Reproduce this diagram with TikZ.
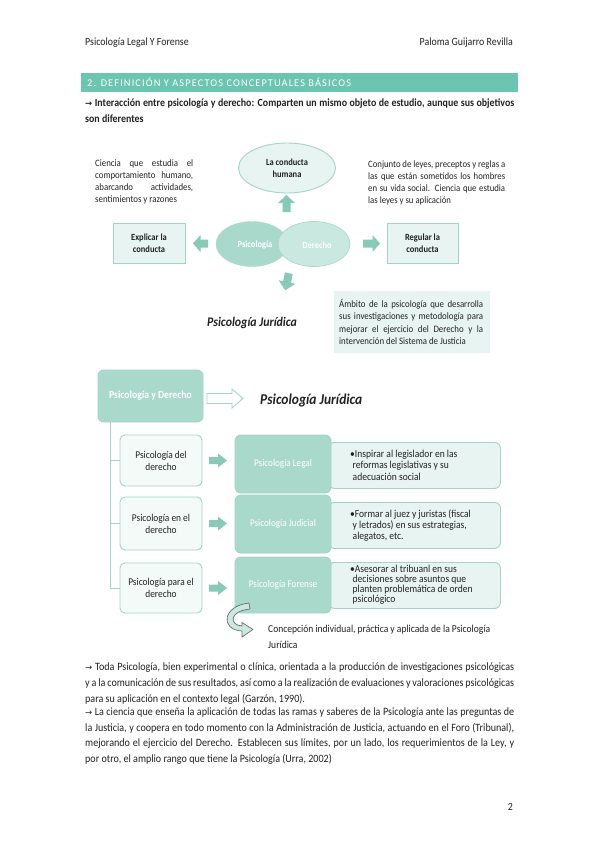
\documentclass[tikz,border=0pt]{standalone}
\usepackage{fontspec}
\setmainfont{Carlito}
\newfontfamily\cf[FakeStretch=0.9]{Carlito}
\newfontfamily\cls[LetterSpace=11]{Carlito}
\newfontfamily\dv{DejaVu Sans}
\usetikzlibrary{shapes.geometric}
\definecolor{barc}{HTML}{6CC5B1}
\definecolor{dfill}{HTML}{A9D9CB}
\definecolor{lfill}{HTML}{E7F4F1}
\definecolor{bord}{HTML}{A2D5C6}
\definecolor{afill}{HTML}{88CAB7}
\definecolor{derf}{HTML}{C9E8DF}
\definecolor{ink}{HTML}{222222}
\newcommand\jl[2]{\makebox[#1][s]{#2}}
\newcommand\arr{{\dv\fontsize{8.5}{9}\selectfont →}}
\begin{document}
\begin{tikzpicture}[x=1pt,y=-1pt,
  tx/.style={inner sep=0pt, anchor=base west, text=ink},
  body/.style={tx, font=\fontsize{11.2}{12}\cf},
  lsm/.style={tx, font=\fontsize{9.8}{12}\cf},
  rsm/.style={tx, font=\fontsize{9.7}{12}\cf},
  asm/.style={tx, font=\fontsize{9.8}{12}\cf},
  bul/.style={tx, font=\fontsize{10.6}{12}\cf},
  lbox/.style={draw=bord, fill=lfill, line width=0.9pt, inner sep=1pt, align=center, text=ink},
  dbox/.style={draw=bord, fill=dfill, line width=0.9pt, rounded corners=6pt, inner sep=1pt, align=center, text=white, font=\fontsize{10.2}{12}\cf},
  wbox/.style={draw=bord, fill=lfill!50, line width=0.9pt, rounded corners=5pt, inner sep=1pt, align=center, text=ink, font=\fontsize{10.4}{12}\cf},
  tbox/.style={draw=bord, fill=lfill, line width=0.9pt, rounded corners=6pt},
  blk/.style={fill=afill, draw=none},
]
\useasboundingbox (0,0) rectangle (599,848);
\fill[white] (0,0) rectangle (599,848);

% header
\node[tx, font=\fontsize{11}{12}\cf] (hl) at (85,45.5) {Psicología Legal Y Forense};
\node[tx, anchor=base east, font=\fontsize{11}{12}\cf] (hr) at (513,45.5) {Paloma Guijarro Revilla};

% section bar
\node[fill=barc, minimum width=437pt, minimum height=19pt, inner sep=0pt, anchor=north west] (bar) at (81,73) {};
\node[tx, text=white, font=\fontsize{10.3}{11}\cls] (bart) at (87,86.2) {2. DEFINICIÓN Y ASPECTOS CONCEPTUALES BÁSICOS};

% intro line
\node[body, font=\fontsize{11}{12}\cf\bfseries] (in1) at (85,107) {\jl{429pt}{\arr\ Interacción entre psicología y derecho: Comparten un mismo objeto de estudio, aunque sus objetivos}};
\node[body, font=\fontsize{11}{12}\cf\bfseries] (in2) at (85,123) {son diferentes};

% ---- diagram 1
\node[ellipse, draw=bord, fill=lfill, line width=0.9pt, minimum width=97pt, minimum height=50pt, inner sep=0pt, align=center, text=ink, font=\fontsize{9.4}{12}\cf\bfseries] (hum) at (287,168) {La conducta\\humana};
\fill[blk] (278,203) -- (286.5,195) -- (295,203) -- (290.5,203) -- (290.5,212) -- (282.5,212) -- (282.5,203) -- cycle;

\node[lsm] (l1) at (95,166) {\jl{98pt}{Ciencia que estudia el}};
\node[lsm] (l2) at (95,178) {\jl{98pt}{comportamiento humano,}};
\node[lsm] (l3) at (95,190) {\jl{98pt}{abarcando actividades,}};
\node[lsm] (l4) at (95,202) {sentimientos y razones};

\node[rsm] (r1) at (368,167) {\jl{137pt}{Conjunto de leyes, preceptos y reglas a}};
\node[rsm] (r2) at (368,179) {\jl{137pt}{las que están sometidos los hombres}};
\node[rsm] (r3) at (368,191) {\jl{137pt}{en su vida social. Ciencia que estudia}};
\node[rsm] (r4) at (368,203) {las leyes y su aplicación};

\node[lbox, minimum width=72pt, minimum height=40pt, font=\fontsize{9.4}{12}\cf\bfseries] (exp) at (149,243) {Explicar la\\conducta};
\node[lbox, minimum width=71pt, minimum height=40pt, font=\fontsize{9.4}{12}\cf\bfseries] (reg) at (422.5,243) {Regular la\\conducta};

\fill[blk] (193,243.5) -- (200.5,235) -- (200.5,239.5) -- (208,239.5) -- (208,247.5) -- (200.5,247.5) -- (200.5,252) -- cycle;
\fill[blk] (380,243.5) -- (372.5,235) -- (372.5,239.5) -- (363,239.5) -- (363,247.5) -- (372.5,247.5) -- (372.5,252) -- cycle;

\node[ellipse, fill=dfill, draw=dfill, minimum width=72pt, minimum height=45pt, inner sep=0pt] (psi) at (252,244) {};
\node[ellipse, fill=derf, draw=dfill, line width=0.7pt, minimum width=72pt, minimum height=45pt, inner sep=0pt] (der) at (314,244) {};
\node[text=white, inner sep=0pt, font=\fontsize{9.4}{12}\cf\bfseries] (psit) at (255,245) {Psicología};
\node[text=white, inner sep=0pt, font=\fontsize{9.4}{12}\cf\bfseries] (dert) at (317,245) {Derecho};

\begin{scope}[shift={(287,282)}, rotate=-12]
\fill[blk] (-8.5,0) -- (0,8.5) -- (8.5,0) -- (4,0) -- (4,-9) -- (-4,-9) -- (-4,0) -- cycle;
\end{scope}
\node[tx, anchor=base, font=\fontsize{13.2}{14}\cf\bfseries\itshape] (pj1) at (252,326.5) {Psicología Jurídica};

\fill[lfill] (334,291) rectangle (490,353);
\node[asm] (a1) at (339,307) {\jl{144pt}{Ámbito de la psicología que desarrolla}};
\node[asm] (a2) at (339,319.5) {\jl{144pt}{sus investigaciones y metodología para}};
\node[asm] (a3) at (339,332) {\jl{144pt}{mejorar el ejercicio del Derecho y la}};
\node[asm] (a4) at (339,344.5) {intervención del Sistema de Justicia};

% ---- diagram 2
\node[dbox, minimum width=105pt, minimum height=52pt, font=\fontsize{10.8}{12}\cf\bfseries] (pyd) at (150.5,396) {Psicología y Derecho};
\coordinate (vt) at (110,422);
\coordinate (vb) at (110,588);
\draw[bord, line width=0.9pt] (vt) -- (vb);

\node[wbox, minimum width=82pt, minimum height=51pt] (sd1) at (161,460.5) {Psicología del\\derecho};
\node[wbox, minimum width=82pt, minimum height=53pt] (sd2) at (161,523.5) {Psicología en el\\derecho};
\node[wbox, minimum width=82pt, minimum height=50pt] (sd3) at (161,588) {Psicología para el\\derecho};
\draw[bord, line width=0.9pt] (vt |- sd1.west) -- (sd1.west);
\draw[bord, line width=0.9pt] (vt |- sd2.west) -- (sd2.west);
\draw[bord, line width=0.9pt] (vb) -- (sd3.west);

\draw[bord, fill=white, line width=0.9pt] (207,393.5) -- (232,393.5) -- (232,389) -- (243,398.5) -- (232,408) -- (232,403.5) -- (207,403.5) -- cycle;
\node[tx, font=\fontsize{15}{16}\cf\bfseries\itshape] (pj2) at (260,404.5) {Psicología Jurídica};

\foreach \yy in {460.5,523.5,588}{
  \fill[blk] (209,\yy-3.5) -- (218,\yy-3.5) -- (218,\yy-7) -- (227,\yy) -- (218,\yy+7) -- (218,\yy+3.5) -- (209,\yy+3.5) -- cycle;
}

\node[tbox, minimum width=172pt, minimum height=46pt, anchor=north west] (t1) at (328,442) {};
\node[tbox, minimum width=172pt, minimum height=46pt, anchor=north west] (t2) at (328,502) {};
\node[tbox, minimum width=172pt, minimum height=46pt, anchor=north west] (t3) at (328,562) {};

\node[dbox, minimum width=96pt, minimum height=58pt] (pl) at (283,464) {Psicología Legal};
\node[dbox, minimum width=96pt, minimum height=58pt] (pju) at (283,524) {Psicología Judicial};
\node[dbox, minimum width=96pt, minimum height=56pt] (pf) at (283,585) {Psicología Forense};

\node[bul] (b11) at (350,457) {•Inspirar al legislador en las};
\node[bul] (b12) at (352.5,468.5) {reformas legislativas y su};
\node[bul] (b13) at (352.5,480) {adecuación social};
\node[bul] (b21) at (350,517.5) {•Formar al juez y juristas (fiscal};
\node[bul] (b22) at (352.5,528.5) {y letrados) en sus estrategias,};
\node[bul] (b23) at (352.5,539.5) {alegatos, etc.};
\node[bul] (b31) at (350,572.5) {•Asesorar al tribuanl en sus};
\node[bul] (b32) at (352.5,582.5) {decisiones sobre asuntos que};
\node[bul] (b33) at (352.5,592.5) {planten problemática de orden};
\node[bul] (b34) at (352.5,602.5) {psicológico};

% curved arrow
\draw[fill=lfill!70!afill, draw=gray!85!black, line width=0.7pt, line join=round]
  (249,603) .. controls (222,606) and (220,630) .. (242,631) -- (242,637) -- (253,629.5) -- (242,622.5) -- (242,626)
  .. controls (229,625) and (229,611) .. (250,609) -- cycle;

\node[bul] (c1) at (268,632) {Concepción individual, práctica y aplicada de la Psicología};
\node[bul] (c2) at (268,648) {Jurídica};

% ---- paragraphs
\node[body] (p11) at (85,670.5) {\jl{429pt}{\arr\ Toda Psicología, bien experimental o clínica, orientada a la producción de investigaciones psicológicas}};
\node[body] (p12) at (85,686.5) {\jl{429pt}{y a la comunicación de sus resultados, así como a la realización de evaluaciones y valoraciones psicológicas}};
\node[body] (p13) at (85,702.5) {para su aplicación en el contexto legal (Garzón, 1990).};
\node[body] (p21) at (85,715.5) {\jl{429pt}{\arr\ La ciencia que enseña la aplicación de todas las ramas y saberes de la Psicología ante las preguntas de}};
\node[body] (p22) at (85,731) {\jl{429pt}{la Justicia, y coopera en todo momento con la Administración de Justicia, actuando en el Foro (Tribunal),}};
\node[body] (p23) at (85,746.5) {\jl{429pt}{mejorando el ejercicio del Derecho. Establecen sus límites, por un lado, los requerimientos de la Ley, y}};
\node[body] (p24) at (85,762) {por otro, el amplio rango que tiene la Psicología (Urra, 2002)};

\node[tx, anchor=base east, font=\fontsize{11}{12}\cf] (pg) at (513,810.5) {2};
\end{tikzpicture}
\end{document}
